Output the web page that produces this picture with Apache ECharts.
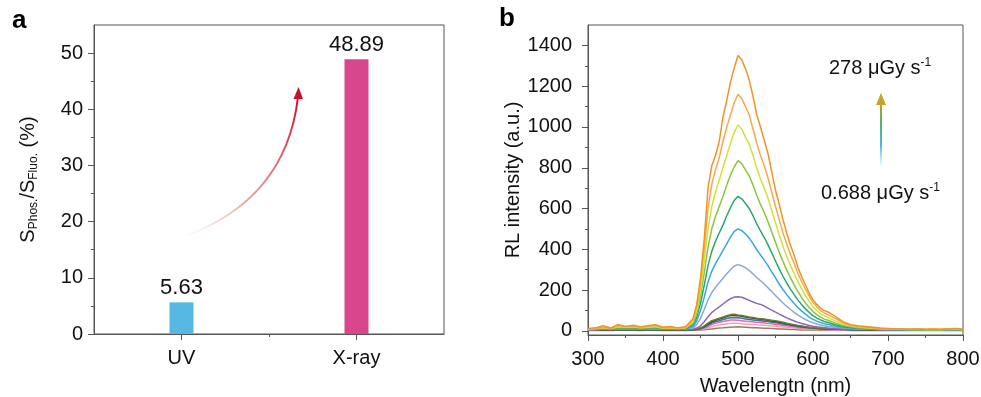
<!DOCTYPE html>
<html>
<head>
<meta charset="utf-8">
<script src="https://cdn.jsdelivr.net/npm/echarts@6/dist/echarts.min.js"></script>
<style>
  html, body { margin: 0; padding: 0; background: #fff; }
  #chart { width: 981px; height: 397px; }
</style>
</head>
<body>
<div id="chart"></div>
<script>
// panel a
const sources = ['UV', 'X-ray']
const ratioValues = [5.63, 48.89]
const ratioTicks = [0, 10, 20, 30, 40, 50]
const ratioMinorTicks = [5, 15, 25, 35, 45]

// panel b: wavelength grid (nm), one value per point in every spectrum
const wavelengths = [
  300, 310, 320, 330, 340, 350, 360, 370, 380, 390, 400, 410, 420, 430, 440,
  445, 450, 455, 460, 465, 470, 475, 480, 485, 490, 495, 500, 505, 510, 515, 520, 525, 530, 535,
  540, 545, 550, 555, 560, 565, 570, 575, 580, 585, 590, 595, 600, 605, 610, 615, 620,
  630, 640, 650, 660, 670, 680, 690, 700, 710, 720, 730, 740, 750, 760, 770, 780, 790, 800,
]
const intensityTicks = [0, 200, 400, 600, 800, 1000, 1200, 1400]
const intensityMinorTicks = [100, 300, 500, 700, 900, 1100, 1300]

// spectra, highest dose rate first
const rl278 = [
  12, 15, 25, 14, 32, 22, 28, 20, 26, 30, 18, 22, 15, 20, 60,
  130, 260, 450, 700, 810, 860, 930, 1050, 1130, 1220, 1290, 1350, 1330, 1285, 1230, 1150, 1060, 1000, 935,
  870, 780, 690, 620, 545, 480, 420, 370, 310, 265, 225, 185, 152, 130, 112, 100, 93,
  70, 45, 30, 25, 22, 18, 14, 12, 10, 10, 8, 10, 8, 9, 8, 10, 12, 8,
]
const rlB = [
  10, 12, 18, 12, 25, 20, 24, 18, 22, 26, 16, 18, 14, 18, 55,
  120, 235, 400, 600, 720, 790, 850, 930, 1000, 1060, 1120, 1160, 1140, 1100, 1060, 990, 920, 860, 810,
  750, 680, 610, 545, 480, 425, 375, 330, 280, 240, 205, 170, 140, 118, 100, 88, 80,
  60, 40, 28, 22, 18, 15, 12, 10, 9, 8, 8, 9, 7, 8, 7, 9, 10, 7,
]
const rlC = [
  10, 12, 15, 12, 20, 18, 20, 16, 18, 22, 14, 16, 12, 15, 45,
  100, 200, 340, 500, 610, 680, 740, 800, 860, 920, 975, 1010, 990, 950, 915, 860, 800, 745, 700,
  650, 590, 530, 470, 415, 365, 320, 280, 240, 205, 172, 145, 120, 100, 85, 74, 66,
  48, 34, 24, 19, 16, 13, 11, 10, 8, 8, 7, 8, 7, 7, 7, 8, 9, 7,
]
const rlD = [
  9, 10, 13, 11, 17, 15, 17, 14, 15, 18, 12, 14, 11, 13, 38,
  85, 170, 285, 410, 500, 560, 610, 660, 715, 765, 805, 835, 820, 790, 760, 715, 665, 620, 580,
  535, 485, 435, 385, 340, 298, 260, 225, 192, 163, 137, 115, 95, 80, 68, 58, 52,
  38, 27, 20, 16, 14, 12, 10, 9, 8, 7, 7, 7, 6, 7, 6, 7, 8, 6,
]
const rlE = [
  8, 9, 11, 10, 14, 13, 14, 12, 13, 15, 11, 12, 10, 11, 30,
  68, 135, 225, 320, 390, 440, 480, 520, 565, 605, 640, 660, 648, 625, 600, 565, 525, 490, 458,
  422, 383, 343, 303, 268, 235, 205, 177, 151, 128, 108, 90, 75, 63, 54, 46, 41,
  30, 22, 17, 14, 12, 10, 9, 8, 7, 7, 6, 7, 6, 6, 6, 7, 7, 6,
]
const rlF = [
  7, 8, 10, 9, 12, 11, 12, 10, 11, 13, 9, 10, 9, 10, 22,
  50, 100, 165, 240, 292, 330, 362, 395, 428, 460, 488, 500, 492, 475, 455, 428, 398, 372, 347,
  320, 290, 260, 230, 203, 178, 155, 134, 114, 97, 82, 68, 57, 48, 41, 35, 31,
  24, 18, 14, 12, 10, 9, 8, 7, 7, 6, 6, 6, 5, 6, 5, 6, 6, 5,
]
const rlG = [
  6, 7, 8, 8, 10, 9, 10, 9, 9, 11, 8, 9, 8, 9, 15,
  32, 62, 105, 152, 188, 214, 236, 258, 280, 300, 318, 325, 320, 309, 296, 280, 262, 246, 230,
  212, 193, 174, 155, 137, 120, 105, 91, 78, 66, 56, 47, 40, 34, 29, 25, 22,
  18, 14, 12, 10, 9, 8, 7, 7, 6, 6, 5, 6, 5, 5, 5, 5, 6, 5,
]
const rlH = [
  5, 6, 7, 7, 8, 8, 8, 7, 8, 9, 7, 7, 7, 7, 9,
  14, 25, 45, 70, 90, 105, 118, 132, 146, 158, 166, 168, 165, 158, 150, 142, 135, 130, 122,
  112, 102, 92, 82, 73, 64, 56, 49, 42, 36, 31, 27, 23, 20, 18, 16, 14,
  12, 10, 9, 8, 7, 7, 6, 6, 5, 5, 5, 5, 4, 5, 4, 5, 5, 4,
]
const rlI = [
  5, 6, 6, 6, 7, 7, 7, 6, 7, 8, 6, 7, 6, 6, 7,
  9, 14, 25, 38, 50, 56, 62, 68, 74, 80, 82, 78, 76, 72, 68, 66, 62, 60, 58,
  55, 52, 50, 46, 42, 38, 34, 30, 27, 24, 21, 18, 16, 14, 13, 12, 11,
  10, 9, 8, 7, 7, 6, 6, 5, 5, 5, 5, 5, 4, 5, 4, 5, 5, 4,
]
const rlJ = [
  4, 5, 5, 5, 6, 6, 6, 5, 6, 7, 5, 6, 5, 5, 6,
  8, 13, 22, 34, 45, 52, 58, 64, 70, 75, 76, 74, 72, 68, 64, 62, 60, 57, 55,
  52, 49, 46, 43, 39, 35, 31, 28, 25, 22, 19, 17, 15, 13, 12, 11, 10,
  9, 8, 7, 6, 6, 5, 5, 5, 4, 4, 4, 4, 4, 4, 4, 4, 4, 4,
]
const rlK = [
  4, 4, 5, 5, 5, 5, 6, 5, 5, 6, 5, 5, 5, 5, 5,
  7, 11, 18, 28, 38, 45, 50, 56, 61, 65, 66, 64, 62, 59, 56, 54, 52, 50, 48,
  46, 43, 40, 37, 34, 31, 28, 25, 22, 19, 17, 15, 13, 12, 11, 10, 9,
  8, 7, 6, 6, 5, 5, 5, 4, 4, 4, 4, 4, 4, 4, 4, 4, 4, 4,
]
const rlL = [
  3, 4, 4, 4, 5, 5, 5, 4, 5, 5, 4, 5, 4, 4, 5,
  6, 9, 15, 23, 31, 37, 42, 46, 50, 53, 54, 52, 50, 48, 46, 45, 43, 41, 39,
  37, 35, 32, 30, 27, 25, 22, 20, 18, 16, 14, 12, 11, 10, 9, 8, 8,
  7, 6, 6, 5, 5, 5, 4, 4, 4, 4, 4, 4, 3, 4, 3, 4, 4, 3,
]
const rlM = [
  3, 3, 3, 3, 4, 4, 4, 3, 4, 4, 3, 4, 3, 3, 4,
  5, 7, 11, 16, 21, 25, 29, 32, 35, 37, 38, 37, 35, 34, 33, 32, 30, 29, 28,
  26, 24, 23, 21, 19, 17, 15, 14, 12, 11, 10, 9, 8, 7, 7, 6, 6,
  5, 5, 4, 4, 4, 4, 3, 3, 3, 3, 3, 3, 3, 3, 3, 3, 3, 3,
]
const rl0688 = [
  2, 2, 2, 2, 3, 3, 3, 2, 3, 3, 2, 3, 2, 2, 3,
  3, 4, 6, 8, 10, 12, 14, 15, 17, 18, 19, 20, 19, 18, 17, 16, 15, 14, 13,
  13, 12, 11, 10, 9, 8, 7, 7, 6, 5, 5, 4, 4, 4, 3, 3, 3,
  3, 3, 2, 2, 2, 2, 2, 2, 2, 2, 2, 2, 2, 2, 2, 2, 2, 2,
]

const spectra = [rl0688, rlM, rlL, rlK, rlJ, rlI, rlH, rlG, rlF, rlE, rlD, rlC, rlB, rl278]
const spectraColors = [
  '#A57A55', '#EFA0C5', '#E36BAF', '#2E7D8C', '#3F3F3F', '#6E7A30', '#8A6BB0',
  '#8EA6D8', '#36A9E0', '#2AA66B', '#8CC43F', '#D4E03A', '#F4AA4E', '#EE9528',
]

const FONT = 'Liberation Sans, Arial, sans-serif'
const INK = '#111'
const AXIS = '#555'

const chart = echarts.init(document.getElementById('chart'), null, { renderer: 'canvas' })

const axisLine = { show: true, onZero: false, lineStyle: { color: AXIS, width: 1 } }
const labelStyle = { color: INK, fontSize: 20, fontFamily: FONT, formatter: (v) => String(v) }

const minorAxis = (extra) => ({
  axisLine: { show: false },
  axisLabel: { show: false },
  splitLine: { show: false },
  ...extra,
})

const lineSeries = spectra.map((values, i) => ({
  type: 'line',
  xAxisIndex: 2,
  yAxisIndex: 2,
  showSymbol: false,
  silent: true,
  lineStyle: { color: spectraColors[i], width: 1.5 },
  itemStyle: { color: spectraColors[i] },
  data: wavelengths.map((w, j) => [w, values[j]]),
}))

const option = {
  animation: false,
  backgroundColor: '#fff',
  textStyle: { fontFamily: FONT },
  grid: [
    { left: 94, top: 25, width: 350, height: 309, show: true, borderColor: AXIS, borderWidth: 1, backgroundColor: 'transparent', outerBoundsMode: 'none', containLabel: false },
    { left: 588, top: 25, width: 375, height: 310, show: true, borderColor: AXIS, borderWidth: 1, backgroundColor: 'transparent', outerBoundsMode: 'none', containLabel: false },
  ],
  xAxis: [
    {
      type: 'category',
      gridIndex: 0,
      data: sources,
      axisLine,
      axisTick: { show: true, alignWithLabel: true, length: 6, lineStyle: { color: AXIS } },
      axisLabel: { color: INK, fontSize: 20, fontFamily: FONT, margin: 14 },
      splitLine: { show: false },
    },
    minorAxis({
      type: 'value',
      gridIndex: 0,
      position: 'bottom',
      min: 0,
      max: 2,
      axisTick: { show: true, length: 3, customValues: [1], lineStyle: { color: AXIS } },
    }),
    {
      type: 'value',
      gridIndex: 1,
      min: 300,
      max: 800,
      interval: 100,
      axisLine,
      axisTick: { show: true, length: 6, lineStyle: { color: AXIS } },
      minorTick: { show: true, splitNumber: 2, length: 3, lineStyle: { color: AXIS } },
      axisLabel: { ...labelStyle, margin: 14 },
      splitLine: { show: false },
      name: 'Wavelengtn (nm)',
      nameLocation: 'middle',
      nameGap: 41,
      nameTextStyle: { color: INK, fontSize: 20, fontFamily: FONT },
    },
  ],
  yAxis: [
    {
      type: 'value',
      gridIndex: 0,
      min: 0,
      max: 55,
      axisLine,
      axisTick: { show: true, length: 6, customValues: ratioTicks, lineStyle: { color: AXIS } },
      axisLabel: { ...labelStyle, margin: 11, customValues: ratioTicks },
      splitLine: { show: false },
      name: '{m|S}{s|Phos.}{m|/S}{s|Fluo.}{m| (%)}',
      nameLocation: 'middle',
      nameGap: 54,
      nameRotate: 90,
      nameTextStyle: {
        color: INK,
        fontFamily: FONT,
        rich: {
          m: { fontSize: 20, lineHeight: 24, color: INK, fontFamily: FONT },
          s: { fontSize: 12, lineHeight: 12, verticalAlign: 'bottom', color: INK, fontFamily: FONT },
        },
      },
    },
    minorAxis({
      type: 'value',
      gridIndex: 0,
      position: 'left',
      min: 0,
      max: 55,
      axisTick: { show: true, length: 3, customValues: ratioMinorTicks, lineStyle: { color: AXIS } },
    }),
    {
      type: 'value',
      gridIndex: 1,
      min: -20,
      max: 1500,
      axisLine,
      axisTick: { show: true, length: 6, customValues: intensityTicks, lineStyle: { color: AXIS } },
      axisLabel: { ...labelStyle, margin: 16, customValues: intensityTicks },
      splitLine: { show: false },
      name: 'RL intensity (a.u.)',
      nameLocation: 'middle',
      nameGap: 60,
      nameRotate: 90,
      nameTextStyle: { color: INK, fontSize: 20, fontFamily: FONT },
    },
    minorAxis({
      type: 'value',
      gridIndex: 1,
      position: 'left',
      min: -20,
      max: 1500,
      axisTick: { show: true, length: 3, customValues: intensityMinorTicks, lineStyle: { color: AXIS } },
    }),
  ],
  series: [
    {
      type: 'bar',
      xAxisIndex: 0,
      yAxisIndex: 0,
      barWidth: 24,
      silent: true,
      data: [
        { value: ratioValues[0], itemStyle: { color: '#56B7E0' } },
        { value: ratioValues[1], itemStyle: { color: '#D8478B' } },
      ],
      label: { show: true, position: 'top', distance: 3, color: INK, fontSize: 22, fontFamily: FONT },
    },
    ...lineSeries,
  ],
  graphic: [
    { type: 'text', left: 12, top: 8, style: { text: 'a', fill: '#000', font: 'bold 26px ' + FONT } },
    { type: 'text', left: 499, top: 6, style: { text: 'b', fill: '#000', font: 'bold 26px ' + FONT } },
    // panel a curved arrow
    {
      type: 'bezierCurve',
      silent: true,
      shape: { x1: 183, y1: 237, cpx1: 286, cpy1: 200, x2: 298, y2: 97 },
      style: {
        fill: null,
        lineWidth: 2,
        stroke: {
          type: 'linear', x: 183, y: 237, x2: 298, y2: 97, global: true,
          colorStops: [
            { offset: 0, color: 'rgba(240,190,180,0)' },
            { offset: 0.35, color: 'rgba(228,140,130,0.75)' },
            { offset: 1, color: '#C8102E' },
          ],
        },
      },
    },
    { type: 'polygon', silent: true, shape: { points: [[298.5, 87], [293.5, 99], [303, 99]] }, style: { fill: '#C8102E' } },
    // panel b dose-rate arrow
    {
      type: 'line',
      silent: true,
      shape: { x1: 881, y1: 165, x2: 881, y2: 102 },
      style: {
        lineWidth: 2,
        stroke: {
          type: 'linear', x: 881, y: 165, x2: 881, y2: 100, global: true,
          colorStops: [
            { offset: 0, color: 'rgba(120,205,240,0.2)' },
            { offset: 0.3, color: '#4DB8E6' },
            { offset: 0.65, color: '#57B06A' },
            { offset: 1, color: '#C9A227' },
          ],
        },
      },
    },
    { type: 'polygon', silent: true, shape: { points: [[881, 93], [876, 105], [886, 105]] }, style: { fill: '#C9A227' } },
    {
      type: 'text', left: 829, top: 57,
      style: {
        text: '{t|278 μGy s}{p|-1}',
        rich: {
          t: { fontSize: 20, fontFamily: FONT, fill: INK, lineHeight: 22 },
          p: { fontSize: 12, fontFamily: FONT, fill: INK, verticalAlign: 'top', lineHeight: 12 },
        },
      },
    },
    {
      type: 'text', left: 821, top: 182,
      style: {
        text: '{t|0.688 μGy s}{p|-1}',
        rich: {
          t: { fontSize: 20, fontFamily: FONT, fill: INK, lineHeight: 22 },
          p: { fontSize: 12, fontFamily: FONT, fill: INK, verticalAlign: 'top', lineHeight: 12 },
        },
      },
    },
  ],
}

chart.setOption(option)
</script>
</body>
</html>
